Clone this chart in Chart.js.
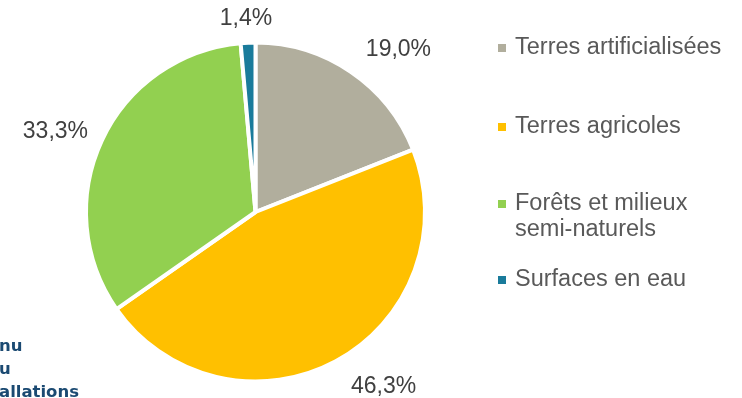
<!DOCTYPE html>
<html lang="fr">
<head>
<meta charset="utf-8">
<script src="https://cdn.jsdelivr.net/npm/chart.js@4"></script>
<style>
  html, body { margin: 0; padding: 0; background: #fff; }
  #occupation { display: block; }
</style>
</head>
<body>
<canvas id="occupation" width="742" height="398"></canvas>
<script>
// occupation des sols, en % de la surface
var categories = ["Terres artificialisées", "Terres agricoles", "Forêts et milieux semi-naturels", "Surfaces en eau"];
var shares = [19.0, 46.3, 33.3, 1.4];
var sliceColors = ["#B1AE9D", "#FFC000", "#92D050", "#1A7B9B"];
var legendLines = [["Terres artificialisées"], ["Terres agricoles"], ["Forêts et milieux", "semi-naturels"], ["Surfaces en eau"]];
var footerLines = ["nu", "u", "allations"];

// small shifts for the outside labels
var labelNudge = [[17, 5], [22, -4], [3, 5], [0, 9]];
var legendY = [48, 127, 204, 280];

function pct(v) {
  return v.toFixed(1).replace(".", ",") + "%";
}

var outsideLabels = {
  id: "outsideLabels",
  afterDatasetsDraw: function(chart) {
    var ctx = chart.ctx;
    var arcs = chart.getDatasetMeta(0).data;
    ctx.save();
    ctx.font = "23px 'Liberation Sans', Arial, sans-serif";
    ctx.fillStyle = "#404040";
    ctx.textAlign = "center";
    ctx.textBaseline = "middle";
    arcs.forEach(function(arc, i) {
      var p = arc.getProps(["x", "y", "startAngle", "endAngle", "outerRadius"], true);
      var mid = (p.startAngle + p.endAngle) / 2;
      var txt = pct(shares[i]);
      var w = ctx.measureText(txt).width;
      var h = 22;
      var ax = p.x + Math.cos(mid) * (p.outerRadius + 22);
      var ay = p.y + Math.sin(mid) * (p.outerRadius + 22);
      var cx = ax + Math.cos(mid) * w / 2 + labelNudge[i][0];
      var cy = ay + Math.sin(mid) * h / 2 + labelNudge[i][1];
      ctx.fillText(txt, cx, cy);
    });
    ctx.restore();
  }
};

var sideLegend = {
  id: "sideLegend",
  afterDraw: function(chart) {
    var ctx = chart.ctx;
    ctx.save();
    ctx.font = "23.5px 'Liberation Sans', Arial, sans-serif";
    ctx.textBaseline = "middle";
    ctx.textAlign = "left";
    legendLines.forEach(function(lines, i) {
      ctx.fillStyle = sliceColors[i];
      ctx.fillRect(498, legendY[i] - 4, 8, 8);
      ctx.fillStyle = "#595959";
      lines.forEach(function(line, k) {
        ctx.fillText(line, 515, legendY[i] + k * 26);
      });
    });

    ctx.font = "bold 16.5px 'DejaVu Sans', Verdana, sans-serif";
    ctx.fillStyle = "#1B4A72";
    ctx.textBaseline = "alphabetic";
    footerLines.forEach(function(line, k) {
      ctx.fillText(line, -1, 351 + k * 23);
    });
    ctx.restore();
  }
};

new Chart("occupation", {
  type: "pie",
  data: {
    labels: categories,
    datasets: [{
      data: shares,
      backgroundColor: sliceColors,
      borderColor: "#ffffff",
      borderWidth: 4
    }]
  },
  options: {
    responsive: false,
    animation: false,
    layout: { padding: { left: 84, right: 315, top: 40, bottom: 14 } },
    plugins: {
      legend: { display: false },
      tooltip: { enabled: false }
    }
  },
  plugins: [outsideLabels, sideLegend]
});
</script>
</body>
</html>
